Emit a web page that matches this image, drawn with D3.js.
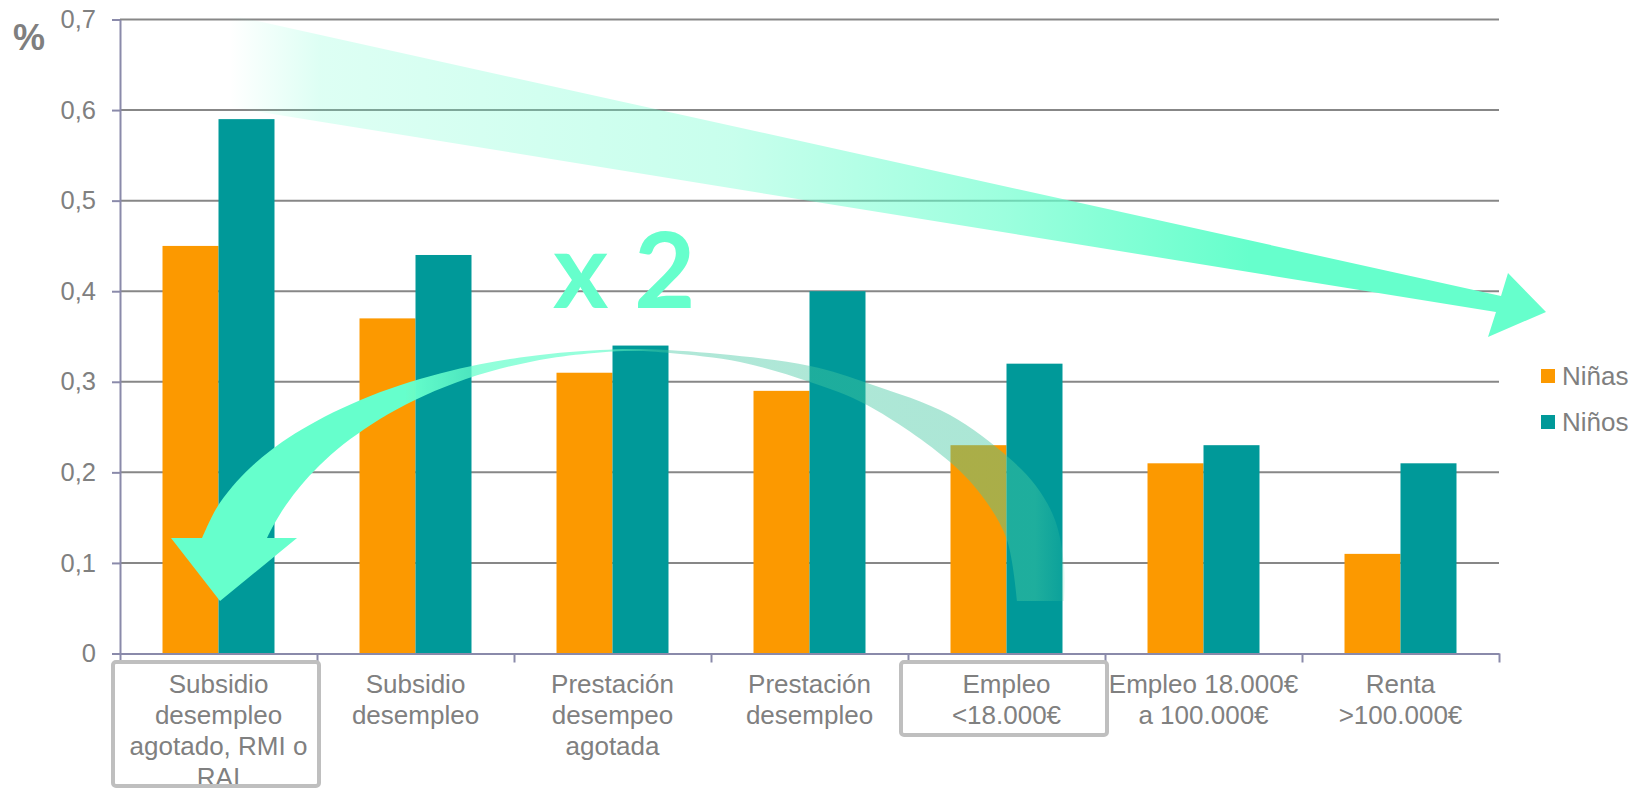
<!DOCTYPE html>
<html><head><meta charset="utf-8">
<script src="https://cdn.jsdelivr.net/npm/d3@7"></script>
<style>html,body{margin:0;padding:0;background:#fff;} svg{display:block;}</style>
</head><body>
<svg id="chart" width="1644" height="788"></svg>
<script>
// ---------- data ----------
const categories = [
  "Subsidio desempleo agotado, RMI o RAI",
  "Subsidio desempleo",
  "Prestación desempeo agotada",
  "Prestación desempleo",
  "Empleo <18.000€",
  "Empleo 18.000€ a 100.000€",
  "Renta >100.000€"
];
const categoryLines = [
  ["Subsidio", "desempleo", "agotado, RMI o", "RAI"],
  ["Subsidio", "desempleo"],
  ["Prestación", "desempeo", "agotada"],
  ["Prestación", "desempleo"],
  ["Empleo", "<18.000€"],
  ["Empleo 18.000€", "a 100.000€"],
  ["Renta", ">100.000€"]
];
const seriesNames = ["Niñas", "Niños"];
const ninas = [0.45, 0.37, 0.31, 0.29, 0.23, 0.21, 0.11];
const ninos = [0.59, 0.44, 0.34, 0.40, 0.32, 0.23, 0.21];
const yTickValues = [0, 0.1, 0.2, 0.3, 0.4, 0.5, 0.6, 0.7];
const yTickLabels = ["0", "0,1", "0,2", "0,3", "0,4", "0,5", "0,6", "0,7"];
const yAxisTitle = "%";
const boxedCategories = [0, 4];
const annotationText = "x 2";

// ---------- layout ----------
const FONT = "'Liberation Sans', Arial, sans-serif";
const plot = {left: 120, right: 1499, top: 19.5, bottom: 653.5};
const svg = d3.select("#chart");

const x = d3.scaleBand().domain(categories).range([plot.left, plot.right]).padding(0);
const xs = d3.scaleBand().domain(seriesNames).range([0, x.bandwidth()]).paddingInner(0).paddingOuter(0.759);
const xb = d3.scaleLinear().domain([0, categories.length]).range([plot.left, plot.right]);
const y = d3.scaleLinear().domain([0, 0.7]).range([plot.bottom, plot.top]);
const color = d3.scaleOrdinal().domain(seriesNames).range(["#FC9900", "#009999"]);
const values = {"Niñas": ninas, "Niños": ninos};

const defs = svg.append("defs");

// gridlines
svg.append("g").selectAll("line").data(yTickValues.filter(v => v > 0)).join("line")
  .attr("x1", plot.left).attr("x2", plot.right)
  .attr("y1", d => y(d)).attr("y2", d => y(d))
  .attr("stroke", "#878787").attr("stroke-width", 2);

// bars
const rows = categories.map((c, i) => ({c, i}));
svg.append("g").selectAll("g").data(rows).join("g")
  .attr("transform", d => `translate(${x(d.c)},0)`)
  .selectAll("rect").data(d => seriesNames.map(s => ({s, v: values[s][d.i]}))).join("rect")
  .attr("x", d => xs(d.s)).attr("width", xs.bandwidth())
  .attr("y", d => y(d.v)).attr("height", d => y(0) - y(d.v))
  .attr("fill", d => color(d.s));

// y axis
const yAxis = svg.append("g").attr("transform", `translate(${plot.left},0)`)
  .call(d3.axisLeft(y).tickValues(yTickValues).tickFormat((d, i) => yTickLabels[i])
    .tickSize(8).tickSizeOuter(0).tickPadding(16));
yAxis.select(".domain").attr("stroke", "#8A8AAA").attr("stroke-width", 2);
yAxis.selectAll(".tick line").attr("stroke", "#8A8AAA").attr("stroke-width", 2);
yAxis.selectAll(".tick text").attr("fill", "#808080").style("font", `25.5px ${FONT}`);

// x axis
const xAxis = svg.append("g").attr("transform", `translate(0,${plot.bottom})`)
  .call(d3.axisBottom(xb).tickValues(d3.range(categories.length + 1)).tickFormat("")
    .tickSize(9).tickSizeOuter(0));
xAxis.select(".domain").attr("stroke", "#8A8AAA").attr("stroke-width", 2);
xAxis.selectAll(".tick line").attr("stroke", "#8A8AAA").attr("stroke-width", 2);

// category labels
const lab = svg.append("g").selectAll("text").data(rows).join("text")
  .attr("x", d => x(d.c) + x.bandwidth() / 2)
  .attr("y", 693)
  .attr("text-anchor", "middle")
  .attr("fill", "#808080")
  .style("font", `26px ${FONT}`);
lab.selectAll("tspan").data(d => categoryLines[d.i].map(t => ({t, cx: x(d.c) + x.bandwidth() / 2})))
  .join("tspan").attr("x", d => d.cx).attr("dy", (d, i) => i === 0 ? 0 : 31).text(d => d.t);

// boxes around highlighted labels
const boxH = {0: 124, 4: 73};
svg.append("g").selectAll("rect").data(boxedCategories).join("rect")
  .attr("x", i => x(categories[i]) - 7).attr("width", x.bandwidth() + 9)
  .attr("y", 662).attr("height", i => boxH[i])
  .attr("rx", 3)
  .attr("fill", "none").attr("stroke", "#BFBFBF").attr("stroke-width", 4);

// y title
svg.append("text").attr("x", 13).attr("y", 50).text(yAxisTitle)
  .attr("fill", "#7F7F7F").style("font", `bold 36px ${FONT}`);

// legend
const lg = svg.append("g").selectAll("g").data(seriesNames).join("g")
  .attr("transform", (d, i) => `translate(1541,${369 + i * 46})`);
lg.append("rect").attr("width", 14).attr("height", 14).attr("fill", d => color(d));
lg.append("text").attr("x", 21).attr("y", 16).text(d => d)
  .attr("fill", "#7F7F7F").style("font", `26px ${FONT}`);

// ---------- annotations ----------
// straight arrow
const g1 = defs.append("linearGradient").attr("id", "gStraight")
  .attr("gradientUnits", "userSpaceOnUse").attr("x1", 230).attr("x2", 1546).attr("y1", 0).attr("y2", 0);
[[230, 0], [320, 0.22], [734, 0.36], [1006, 0.65], [1250, 1], [1546, 1]].forEach(([px, o]) =>
  g1.append("stop").attr("offset", (px - 230) / (1546 - 230)).attr("stop-color", "#66FFCC").attr("stop-opacity", o));
const straightPts = [[230, 15], [1501, 296], [1508, 273], [1546, 312], [1488, 337], [1496, 312], [230, 107]];
svg.append("path").attr("d", "M" + straightPts.map(p => p.join(",")).join("L") + "Z")
  .attr("fill", "url(#gStraight)");

// curved arrow
const g2 = defs.append("linearGradient").attr("id", "gCurve")
  .attr("gradientUnits", "userSpaceOnUse").attr("x1", 170).attr("x2", 1070).attr("y1", 0).attr("y2", 0);
[[170, "#66FFCC", 1], [405, "#66FFCC", 1], [480, "#66FFCC", 0.72], [600, "#66FFCC", 0.68],
 [665, "#44C8A2", 0.42], [1035, "#44C8A2", 0.45], [1070, "#44C8A2", 0.1]].forEach(([px, c, o]) =>
  g2.append("stop").attr("offset", (px - 170) / 900).attr("stop-color", c).attr("stop-opacity", o));
const arcY = (px, cx, cy, a, b) => cy - b * Math.sqrt(Math.max(0, 1 - ((px - cx) / a) ** 2));
const outerRight = [[1064, 601], [1064, 565], [1055, 520], [1036, 486], [1008, 457], [950, 415], [870, 384],
  [810, 366], [720, 354]];
const outerLeft = [640, 600, 560, 520, 480, 440, 400, 360, 325, 295, 270, 250, 232, 216, 202]
  .map(px => [px, arcY(px, 640, 578.6, 445, 229.6)]);
const innerLeft = [267, 272, 280, 290, 305, 325, 350, 380, 415, 455, 500, 550, 600, 635]
  .map(px => [px, arcY(px, 640, 621, 392, 270)]);
const innerRight = [[670, 353], [740, 362], [810, 382], [867, 405], [950, 462], [985, 500], [1007, 540], [1017, 601]];
const headPts = [[171, 538], [220, 601], [297, 538]];
const smooth = d3.line().curve(d3.curveCatmullRom.alpha(0.5));
const dCurve = smooth(outerRight.concat(outerLeft)) + "L" + headPts.map(p => p.join(",")).join("L")
  + smooth(innerLeft.concat(innerRight)).replace(/^M/, "L") + "Z";
svg.append("path").attr("d", dCurve).attr("fill", "url(#gCurve)");

// "x 2"
svg.append("text").attr("x", 553).attr("y", 308).text(annotationText)
  .attr("fill", "#66FFCC").style("font", "bold 106px Lato, 'Open Sans', sans-serif");
</script>
</body></html>
